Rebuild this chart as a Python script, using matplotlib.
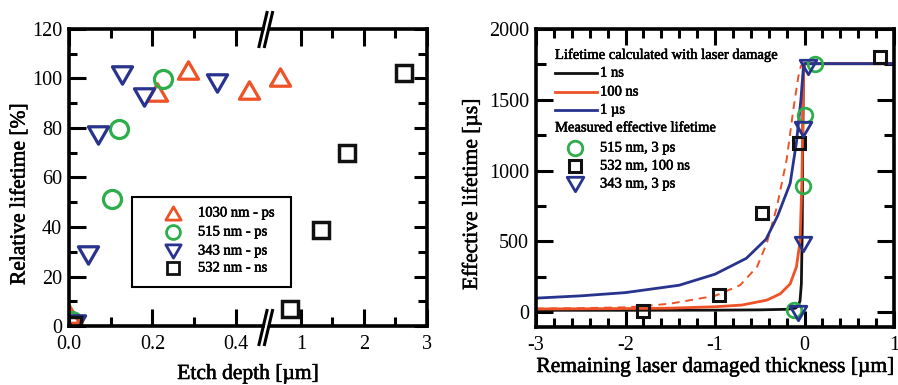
import matplotlib
matplotlib.use("Agg")
import matplotlib.pyplot as plt
import matplotlib.patheffects as pe
import matplotlib.text as mtext
import numpy as np
from matplotlib.path import Path
from matplotlib.lines import Line2D
from matplotlib.patches import Rectangle, Polygon
from matplotlib.ticker import FixedLocator, MultipleLocator, FormatStrFormatter

plt.rcParams['font.family'] = ['Liberation Serif', 'DejaVu Serif']
plt.rcParams['axes.unicode_minus'] = False
plt.rcParams['font.size'] = 14.5

# ---------------- data: left panel (etch depth vs relative lifetime) ----------------
ps1030_x = [0.0, 0.21, 0.285, 0.43, 0.67]
ps1030_y = [5, 94.5, 103.4, 95.3, 100.6]
ps515_x = [0.008, 0.103, 0.12, 0.225]
ps515_y = [2, 51.2, 79.7, 99.7]
ps343_x = [0.014, 0.045, 0.069, 0.127, 0.18, 0.354]
ps343_y = [1, 28.7, 77, 101.4, 92.5, 98]
ns532_x = [0.01, 0.83, 1.32, 1.73, 2.63]
ns532_y = [0.5, 6.9, 38.8, 70, 102.4]
left_labels = ['1030 nm - ps', '515 nm - ps', '343 nm - ps', '532 nm - ns']

# ---------------- data: right panel ----------------
calc_1ns_x = [-3, -2, -1, -0.5, -0.2, -0.1, -0.07, -0.05, -0.035, -0.025, -0.02, -0.012, 0.0, 1.0]
calc_1ns_y = [13, 13, 14, 16, 20, 28, 45, 80, 200, 600, 1200, 1700, 1755, 1755]
calc_100ns_x = [-3, -2, -1.5, -1, -0.7, -0.42, -0.27, -0.16, -0.09, -0.05, -0.03, -0.02, -0.01, 0.0, 1.0]
calc_100ns_y = [22, 25, 28, 38, 50, 85, 130, 200, 320, 500, 900, 1300, 1700, 1755, 1755]
calc_1us_x = [-3, -2.5, -2, -1.4, -1, -0.65, -0.43, -0.3, -0.16, -0.09, -0.04, -0.01, 0.0, 1.0]
calc_1us_y = [99, 115, 138, 190, 268, 380, 515, 680, 910, 1200, 1500, 1750, 1755, 1755]
calc_dash_x = [-3, -2.5, -2, -1.84, -1.5, -1, -0.72, -0.53, -0.42, -0.31, -0.2, -0.125, -0.07, -0.04, 0.0]
calc_dash_y = [25, 28, 34, 40, 60, 115, 190, 320, 490, 740, 1075, 1430, 1660, 1740, 1755]

meas515_x = [0.117, 0.0, -0.013, -0.117]
meas515_y = [1752, 1393, 893, 12]
meas532_x = [-1.81, -0.96, -0.47, -0.058, 0.845]
meas532_y = [7, 118, 697, 1192, 1799]
meas343_x = [0.043, -0.013, -0.02, -0.07]
meas343_y = [1735, 1294, 484, -5]
right_line_labels = ['1 ns', '100 ns', '1 \u00b5s']
right_meas_labels = ['515 nm, 3 ps', '532 nm, 100 ns', '343 nm, 3 ps']

ORANGE = '#EE5226'
GREEN = '#2DAE4B'
BLUE = '#27338D'
BLACK = '#111111'

W, H = 898, 385
def fx(px):
    return px / W
def fy(py):
    return 1 - py / H

TRI_UP = Path([(-1, -0.866), (1, -0.866), (0, 0.866), (-1, -0.866)], closed=True)
TRI_DN = Path([(-1, 0.866), (1, 0.866), (0, -0.866), (-1, 0.866)], closed=True)

fig = plt.figure(figsize=(W / 100, H / 100), dpi=100)

ax1 = fig.add_axes([fx(69), fy(326), 196 / W, 297 / H])
ax2 = fig.add_axes([fx(265), fy(326), 162 / W, 297 / H])
ax3 = fig.add_axes([fx(536), fy(327), 358 / W, 298 / H])

SPW = 2.6
for ax in (ax1, ax2, ax3):
    for s in ax.spines.values():
        s.set_linewidth(SPW)

# ---------- left broken axis ----------
split = 0.45
left_series = [
    (ps1030_x, ps1030_y, TRI_UP, ORANGE, 14.5, 2.3),
    (ps515_x, ps515_y, 'o', GREEN, 13, 2.3),
    (ps343_x, ps343_y, TRI_DN, BLUE, 14.5, 2.3),
    (ns532_x, ns532_y, 's', BLACK, 11.5, 2.5),
]
for xs, ys, mk, col, ms, mew in left_series:
    xs = np.asarray(xs, float); ys = np.asarray(ys, float)
    m = xs < split
    ax1.plot(xs[m], ys[m], ls='none', marker=mk, ms=ms, mfc='none', mec=col, mew=mew)
    ax2.plot(xs[~m], ys[~m], ls='none', marker=mk, ms=ms, mfc='none', mec=col, mew=mew)

ax1.set_xlim(0, 0.4695)
ax2.set_xlim(0.4286, 3)
for ax in (ax1, ax2):
    ax.set_ylim(0, 120)
    ax.yaxis.set_major_locator(MultipleLocator(20))
    ax.yaxis.set_minor_locator(MultipleLocator(10))

ax1.spines['right'].set_visible(False)
ax2.spines['left'].set_visible(False)
ax1.xaxis.set_major_locator(FixedLocator([0.0, 0.2, 0.4]))
ax1.xaxis.set_minor_locator(FixedLocator([0.1, 0.3]))
ax1.xaxis.set_major_formatter(FormatStrFormatter('%.1f'))
ax2.xaxis.set_major_locator(FixedLocator([1, 2, 3]))
ax2.xaxis.set_minor_locator(FixedLocator([1.5, 2.5]))
ax2.xaxis.set_major_formatter(FormatStrFormatter('%d'))

ax1.tick_params(which='both', direction='in', left=True, right=False, top=True, bottom=True,
                width=2.2, labelsize=14.5)
ax1.tick_params(axis='y', which='major', length=12.5, pad=5)
ax1.tick_params(axis='y', which='minor', length=6)
ax1.tick_params(axis='x', which='major', length=12, pad=6.5)
ax1.tick_params(axis='x', which='minor', length=6.5)

ax2.tick_params(which='both', direction='in', left=False, right=True, top=True, bottom=True,
                labelleft=False, labelright=False, width=2.2, labelsize=14.5)
ax2.tick_params(axis='y', which='major', length=9.5)
ax2.tick_params(axis='y', which='minor', length=6.5)
ax2.tick_params(axis='x', which='major', length=12, pad=6.5)
ax2.tick_params(axis='x', which='minor', length=6.5)

# break marks
for yc in (29.5, 327.5):
    y0, y1 = yc + 17, yc - 17
    fig.add_artist(Polygon([(fx(260.5), fy(y0)), (fx(268.5), fy(y1)), (fx(271.5), fy(y1)), (fx(263.5), fy(y0))],
                           closed=True, transform=fig.transFigure, facecolor='white', edgecolor='none', zorder=5))
    for dx in (0, 5.5):
        fig.add_artist(Line2D([fx(259 + dx), fx(267 + dx)], [fy(y0), fy(y1)], color='black', lw=2.2,
                              transform=fig.transFigure, zorder=6))

fig.text(fx(20), fy(194), 'Relative lifetime [%]', rotation=90, ha='center', va='center', fontsize=15.5)
fig.text(fx(248), fy(379), 'Etch depth [\u00b5m]', ha='center', va='baseline', fontsize=15.5)

# left legend (manual)
fig.add_artist(Rectangle((fx(132), fy(287)), fx(291) - fx(132), fy(197) - fy(287), transform=fig.transFigure,
                         facecolor='white', edgecolor='black', lw=1.5, zorder=7))
leg_y = [213, 232, 251, 268]
leg_specs = [(TRI_UP, ORANGE, 11), ('o', GREEN, 10), (TRI_DN, BLUE, 11), ('s', BLACK, 8.5)]
for (mk, col, ms), lab, yy in zip(leg_specs, left_labels, leg_y):
    fig.add_artist(Line2D([fx(173)], [fy(yy)], ls='none', marker=mk, ms=ms, mfc='none', mec=col, mew=2.0,
                          transform=fig.transFigure, zorder=8))
    fig.text(fx(198), fy(yy), lab, ha='left', va='center', fontsize=10.5, zorder=8)

# ---------- right panel ----------
ax3.plot(calc_1ns_x, calc_1ns_y, color=BLACK, lw=2.0)
ax3.plot(calc_100ns_x, calc_100ns_y, color=ORANGE, lw=2.0)
ax3.plot(calc_dash_x, calc_dash_y, color=ORANGE, lw=1.4, ls=(0, (4, 3)))
ax3.plot(calc_1us_x, calc_1us_y, color=BLUE, lw=2.0)
ax3.plot(meas515_x, meas515_y, ls='none', marker='o', ms=10.5, mfc='none', mec=GREEN, mew=2.0)
ax3.plot(meas532_x, meas532_y, ls='none', marker='s', ms=8.5, mfc='none', mec=BLACK, mew=2.2)
ax3.plot(meas343_x, meas343_y, ls='none', marker=TRI_DN, ms=12, mfc='none', mec=BLUE, mew=2.0)

ax3.set_xlim(-3, 1)
ax3.set_ylim(-105, 2000)
ax3.xaxis.set_major_locator(MultipleLocator(1))
ax3.xaxis.set_minor_locator(MultipleLocator(0.2))
ax3.yaxis.set_major_locator(MultipleLocator(500))
ax3.yaxis.set_minor_locator(MultipleLocator(250))
ax3.xaxis.set_major_formatter(FormatStrFormatter('%d'))
ax3.tick_params(which='both', direction='in', left=True, right=True, top=True, bottom=True,
                width=2.2, labelsize=14.5)
ax3.tick_params(axis='y', which='major', length=12.5, pad=5)
ax3.tick_params(axis='y', which='minor', length=7)
ax3.tick_params(axis='x', which='major', length=11.5, pad=6.5)
ax3.tick_params(axis='x', which='minor', length=6.5)

fig.text(fx(472), fy(194), 'Effective lifetime [\u00b5s]', rotation=90, ha='center', va='center', fontsize=15.5)
fig.text(fx(715), fy(372), 'Remaining laser damaged thickness [\u00b5m]', ha='center', va='baseline', fontsize=15.5)

# right legend (manual)
fig.text(fx(555), fy(55), 'Lifetime calculated with laser damage', ha='left', va='center', fontsize=10.5)
for col, lab, yy in zip([BLACK, ORANGE, BLUE], right_line_labels, [73, 92, 110]):
    fig.add_artist(Line2D([fx(555), fx(597)], [fy(yy), fy(yy)], color=col, lw=2.0, transform=fig.transFigure))
    fig.text(fx(600), fy(yy), lab, ha='left', va='center', fontsize=10.5)
fig.text(fx(555), fy(128), 'Measured effective lifetime', ha='left', va='center', fontsize=10.5)
for (mk, col, ms, mew), lab, yy in zip([('o', GREEN, 10.5, 2.0), ('s', BLACK, 8.5, 2.2), (TRI_DN, BLUE, 12, 2.0)],
                                       right_meas_labels, [148, 166, 184]):
    fig.add_artist(Line2D([fx(575)], [fy(yy)], ls='none', marker=mk, ms=ms, mfc='none', mec=col, mew=mew,
                          transform=fig.transFigure))
    fig.text(fx(600), fy(yy), lab, ha='left', va='center', fontsize=10.5)

# heavier text rendering, as in the reference
for t in fig.findobj(mtext.Text):
    if t.get_text():
        t.set_path_effects([pe.withStroke(linewidth=0.4, foreground=t.get_color())])

fig.savefig('out.png', dpi=100)
